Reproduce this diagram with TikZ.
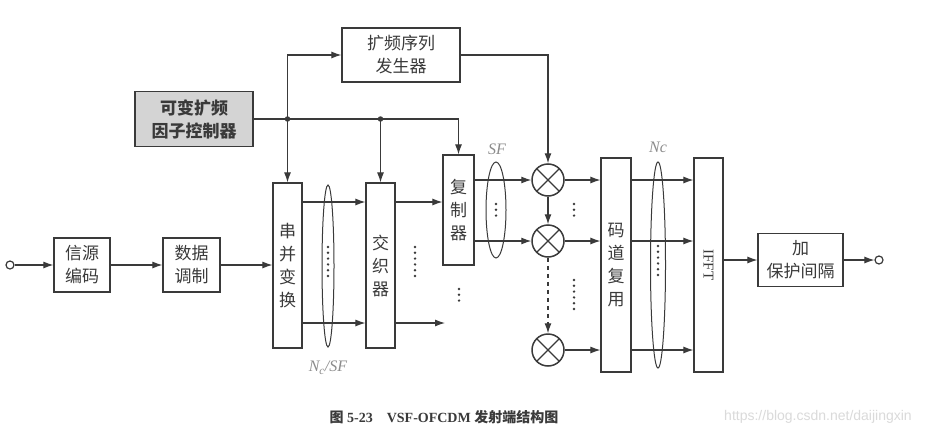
\documentclass[tikz,border=0pt]{standalone}
\usepackage{fontspec}
\setmainfont{Liberation Serif}
\newfontfamily\cjk{Noto Sans CJK SC}
\newfontfamily\wmfont{Liberation Sans}
\usetikzlibrary{arrows.meta,shapes.geometric}
\definecolor{ink}{HTML}{3A3A3A}
\definecolor{ctrlgray}{HTML}{D4D4D4}
\definecolor{lblgray}{HTML}{8C8C8C}
\definecolor{wmgray}{HTML}{DADADA}
\tikzset{
  blk/.style={draw=ink, line width=1.2pt, rectangle, inner sep=0pt, align=center,
              font=\cjk\fontsize{17}{23}\selectfont, text=ink},
  mult/.style={draw=ink, line width=1.5pt, circle, minimum size=32pt, inner sep=0pt,
               path picture={\draw[ink, line width=1.3pt]
                 (path picture bounding box.north west) -- (path picture bounding box.south east)
                 (path picture bounding box.north east) -- (path picture bounding box.south west);}},
  term/.style={draw=ink, line width=1.2pt, circle, minimum size=8pt, inner sep=0pt, fill=white},
  arr/.style={draw=ink, line width=1.1pt, -{Latex[length=10pt,width=7pt]}},
  ln/.style={draw=ink, line width=1.1pt},
  grp/.style={draw=ink, line width=1pt, ellipse, inner sep=0pt},
  vdots/.style={draw=ink, line width=2.7pt, line cap=round, dash pattern=on 0pt off 5.8pt},
  lbl/.style={text=lblgray, font=\itshape\fontsize{16}{18}\selectfont, inner sep=0pt},
  jdot/.style={circle, fill=ink, minimum size=5.5pt, inner sep=0pt}
}
\begin{document}
\begin{tikzpicture}[x=1pt,y=-1pt]
\useasboundingbox (0,0) rectangle (934,439);
\fill[white] (0,0) rectangle (934,439);

% blocks
\node[blk, minimum width=118pt, minimum height=54pt] (kp) at (401,55) {扩频序列\\发生器};
\node[blk, fill=ctrlgray, font=\cjk\bfseries\fontsize{17}{23}\selectfont, minimum width=118pt, minimum height=55pt] (ctrl) at (194,119) {可变扩频\\因子控制器};
\node[blk, minimum width=56pt, minimum height=54pt] (xy) at (82,265) {信源\\编码};
\node[blk, minimum width=57pt, minimum height=54pt] (sj) at (191.5,265) {数据\\调制};
\node[blk, minimum width=29pt, minimum height=165pt] (cb) at (287.5,265.5) {串\\并\\变\\换};
\node[blk, minimum width=29pt, minimum height=165pt] (jz) at (380.5,265.5) {交\\织\\器};
\node[blk, minimum width=31pt, minimum height=110pt] (fz) at (458.5,210) {复\\制\\器};
\node[mult] (m1) at (548,180) {};
\node[mult] (m2) at (548,241) {};
\node[mult] (m3) at (548,350) {};
\node[blk, minimum width=30pt, minimum height=214pt] (md) at (616,265) {码\\道\\复\\用};
\node[blk, minimum width=29pt, minimum height=214pt] (ifft) at (708.5,265) {};
\node[text=ink, font=\fontsize{15}{17}\selectfont, rotate=-90, inner sep=0pt] (iffttxt) at (ifft.center) {IFFT};
\node[blk, minimum width=85pt, minimum height=53pt] (bh) at (800.5,260) {加\\保护间隔};
\node[term] (tin) at (10,265) {};
\node[term] (tout) at (879,260) {};

% row coordinates
\coordinate (r1) at (0,202);
\coordinate (r2) at (0,323);

% main chain
\draw[arr] (tin) -- (xy);
\draw[arr] (xy) -- (sj);
\draw[arr] (sj) -- (cb.west |- sj);
\draw[arr] (ifft.east |- bh) -- (bh);
\draw[arr] (bh) -- (tout);

% control lines
\coordinate (j1) at (ctrl.east -| cb.north);
\coordinate (j2) at (ctrl.east -| jz.north);
\draw[ln] (ctrl.east) -- (ctrl.east -| fz.north);
\draw[arr] (ctrl.east -| fz.north) -- (fz.north);
\draw[arr] (j1) |- (kp.west);
\draw[arr] (j1) -- (cb.north);
\draw[arr] (j2) -- (jz.north);
\node[jdot] (d1) at (j1) {};
\node[jdot] (d2) at (j2) {};
\draw[arr] (kp.east) -| (m1.north);

% parallel lines
\draw[arr] (cb.east |- r1) -- (jz.west |- r1);
\draw[arr] (cb.east |- r2) -- (jz.west |- r2);
\draw[arr] (jz.east |- r1) -- (fz.west |- r1);
\coordinate (jzend) at (445,323);
\draw[arr] (jz.east |- r2) -- (jzend);
\draw[arr] (fz.east |- m1) -- (m1.west);
\draw[arr] (fz.east |- m2) -- (m2.west);
\draw[arr] (m1.east) -- (md.west |- m1);
\draw[arr] (m2.east) -- (md.west |- m2);
\draw[arr] (m3.east) -- (md.west |- m3);
\draw[arr] (md.east |- m1) -- (ifft.west |- m1);
\draw[arr] (md.east |- m2) -- (ifft.west |- m2);
\draw[arr] (md.east |- m3) -- (ifft.west |- m3);
\draw[arr] (m1.south) -- (m2.north);
\draw[arr, dash pattern=on 4pt off 4pt] (m2.south) -- (m3.north);

% group ellipses
\node[grp, minimum width=12pt, minimum height=162pt] (e1) at (328,266) {};
\node[grp, minimum width=20pt, minimum height=96pt] (e2) at (496,210) {};
\node[grp, minimum width=15pt, minimum height=206pt] (e3) at (658,265) {};

% dots
\draw[vdots] (328,247) -- (328,280);
\draw[vdots] (415,247) -- (415,277);
\draw[vdots] (459,289) -- (459,301);
\draw[vdots] (496,204) -- (496,216);
\draw[vdots] (574,204) -- (574,216);
\draw[vdots] (574,280) -- (574,310);
\draw[vdots] (658,246) -- (658,276);

% labels
\node[lbl] (lsf) at (497,149) {SF};
\node[lbl] (lnc) at (658,147) {Nc};
\node[lbl] (lncsf) at (328,368) {N\textsubscript{c}/SF};

% caption
\node[text=ink, font=\bfseries\fontsize{14}{16}\selectfont, inner sep=0pt] (cap) at (444,417)
  {{\cjk 图} 5-23\hspace{14pt}VSF-OFCDM {\cjk 发射端结构图}};
\node[text=wmgray, font=\wmfont\fontsize{14}{16}\selectfont, inner sep=0pt] (wm) at (818,417)
  {https://blog.csdn.net/daijingxin};
\end{tikzpicture}
\end{document}
